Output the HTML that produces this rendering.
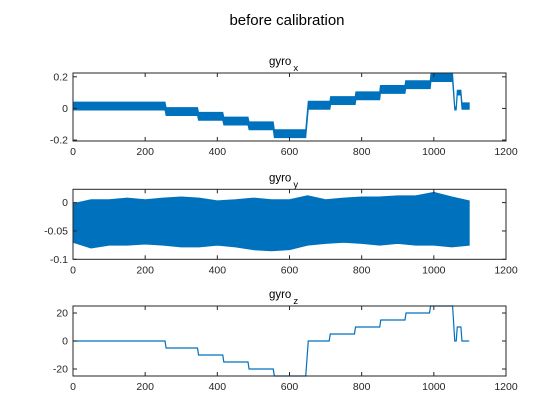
<!DOCTYPE html>
<html><head><meta charset="utf-8"><style>
html,body{margin:0;padding:0;background:#fff;}
svg{display:block;font-family:"Liberation Sans",Arial,sans-serif;}
</style></head><body>
<svg id="chart" width="560" height="420" viewBox="0 0 560 420">
<text x="287" y="25" font-size="15" text-anchor="middle" fill="#000">before calibration</text>
</svg>
<script>
// gyro_x step data: segment breakpoints and band centers
const gxT = [0,255,258,345,348,415,418,485,488,555,558,645,652,712,714,782,784,850,852,920,922,990,992,1052,1058,1062,1065,1075,1078,1098];
const gxC = [0.015,0.015,-0.02,-0.02,-0.05,-0.05,-0.08,-0.08,-0.11,-0.11,-0.16,-0.16,0.02,0.02,0.05,0.05,0.08,0.08,0.12,0.12,0.15,0.15,0.195,0.195,0.0,0.0,0.1,0.1,0.015,0.015];
const gxHW = [0.025,0.025,0.025,0.025,0.025,0.025,0.025,0.025,0.025,0.025,0.025,0.025,0.025,0.025,0.025,0.025,0.025,0.025,0.025,0.025,0.025,0.025,0.025,0.025,0.01,0.01,0.015,0.015,0.02,0.02];
// gyro_y envelope data
const gyT = [0,50,100,150,200,250,300,350,400,450,500,550,600,650,700,750,800,850,900,950,1000,1050,1098];
const gyUp = [-0.002,0.005,0.005,0.008,0.005,0.008,0.01,0.008,0.003,0.005,0.008,0.005,0.005,0.012,0.005,0.008,0.01,0.01,0.012,0.012,0.018,0.01,0.003];
const gyLo = [-0.07,-0.08,-0.075,-0.075,-0.073,-0.075,-0.078,-0.078,-0.075,-0.078,-0.083,-0.085,-0.083,-0.075,-0.072,-0.07,-0.072,-0.075,-0.072,-0.075,-0.075,-0.078,-0.075];
// gyro_z step data
const gzT = [0,255,258,345,348,415,418,485,488,555,558,645,652,710,713,780,783,850,853,920,923,988,991,1052,1058,1062,1065,1075,1078,1098];
const gzV = [0,0,-5,-5,-10,-10,-15,-15,-20,-20,-25,-25,0,0,5,5,10,10,15,15,20,20,25,25,0,0,10,10,0,0];
const xTicks = [0,200,400,600,800,1000,1200];
const gxTicks = [-0.2,0,0.2], gyTicks = [-0.1,-0.05,0], gzTicks = [-20,0,20];

const NS="http://www.w3.org/2000/svg", svg=document.getElementById('chart');
const L=73,R=506,C='#0072BD';
function mk(tag,at,parent){const e=document.createElementNS(NS,tag);for(const k in at)e.setAttribute(k,at[k]);(parent||svg).appendChild(e);return e;}
function panel(name,top,bot,ymin,ymax,yt,ylab,sub){
  const g=mk('g',{});
  
  
  const sx=v=>L+(v-0)/(1200-0)*(R-L), sy=v=>bot-(v-ymin)/(ymax-ymin)*(bot-top);
  const t=mk('text',{x:(L+R)/2-6,y:top-8,'font-size':11.5,'text-anchor':'middle'},g);
  
  
  t.textContent='gyro';
  const s=mk('tspan',{dx:2,dy:6,'font-size':9.5},t); s.textContent=sub;
  return {g,sx,sy,finish(){
    const f=mk('rect',{x:L,y:top,width:R-L,height:bot-top,fill:'none',stroke:'#262626','stroke-width':1},g);
    
    
    xTicks.forEach(v=>{const x=sx(v);
      mk('line',{x1:x,x2:x,y1:bot,y2:bot-4,stroke:'#262626'},g);
      mk('line',{x1:x,x2:x,y1:top,y2:top+4,stroke:'#262626'},g);
      const tl=mk('text',{x:x,y:bot+14,'font-size':10.5,'text-anchor':'middle',fill:'#262626'},g);
      
      
      tl.textContent=v;});
    yt.forEach((v,i)=>{const y=sy(v);
      mk('line',{x1:L,x2:L+4,y1:y,y2:y,stroke:'#262626'},g);
      mk('line',{x1:R,x2:R-4,y1:y,y2:y,stroke:'#262626'},g);
      const tl=mk('text',{x:L-5,y:y+3.5,'font-size':10.5,'text-anchor':'end',fill:'#262626'},g);
      
      
      tl.textContent=ylab[i];});
  }};
}
// panel 1
let p=panel('gyro-x',73,141,-0.206,0.224,gxTicks,['-0.2','0','0.2'],'x');
let up=gxT.map((t,i)=>p.sx(t)+','+p.sy(Math.min(gxC[i]+gxHW[i],0.224))), lo=gxT.map((t,i)=>p.sx(t)+','+p.sy(Math.max(gxC[i]-gxHW[i],-0.206))).reverse();
let band=mk('polygon',{points:up.concat(lo).join(' '),fill:C,stroke:C,'stroke-width':1},p.g);


p.finish();
// panel 2
p=panel('gyro-y',189.3,259.3,-0.1,0.0235,gyTicks,['-0.1','-0.05','0'],'y');
up=gyT.map((t,i)=>p.sx(t)+','+p.sy(Math.min(gyUp[i],0.0235))); lo=gyT.map((t,i)=>p.sx(t)+','+p.sy(gyLo[i])).reverse();
band=mk('polygon',{points:up.concat(lo).join(' '),fill:C,stroke:C,'stroke-width':1},p.g);


p.finish();
// panel 3
p=panel('gyro-z',306,376,-25,25,gzTicks,['-20','0','20'],'z');
const ln=mk('polyline',{points:gzT.map((t,i)=>p.sx(t)+','+p.sy(gzV[i])).join(' '),fill:'none',stroke:C,'stroke-width':1.2},p.g);


p.finish();
</script>
</body></html>
